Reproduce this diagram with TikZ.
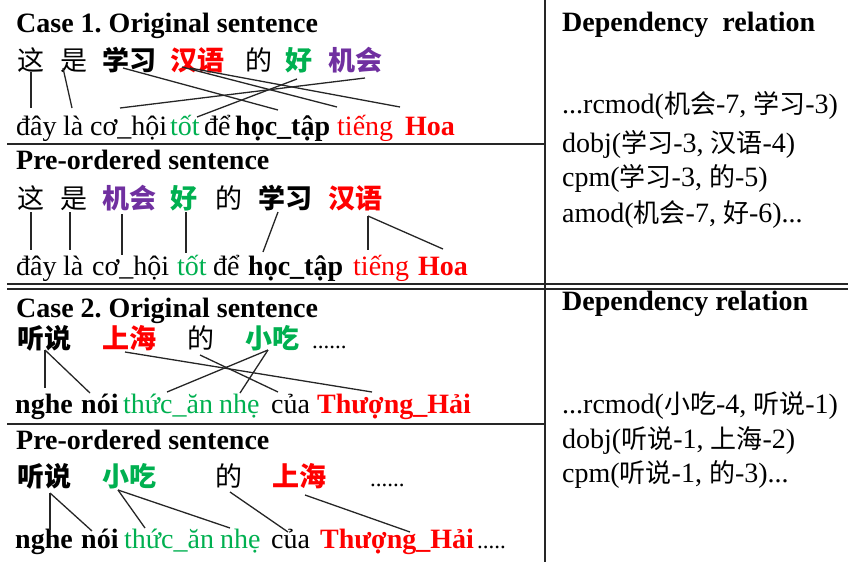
\documentclass[tikz,border=0pt]{standalone}
\usepackage{fontspec}
\setmainfont{Liberation Serif}
\newfontfamily\cjk{Noto Sans CJK SC}
\definecolor{zred}{RGB}{255,0,0}
\definecolor{zgreen}{RGB}{0,176,80}
\definecolor{zpurple}{RGB}{112,48,160}
\newcommand\lk[4]{\draw[link] ([shift={(#2)}]#1.base west) -- ([shift={(#4)}]#3.base west);}
\newcommand\zc[1]{{\cjk\fontsize{26}{26}\selectfont #1}}
\begin{document}
\frenchspacing
\begin{tikzpicture}[x=1pt,y=-1pt,
  every node/.style={inner sep=0pt, anchor=base west},
  ttl/.style={font=\fontsize{28}{28}\selectfont\bfseries},
  zh/.style={font=\cjk\fontsize{27}{27}\selectfont},
  zhb/.style={font=\cjk\bfseries\fontsize{27}{27}\selectfont},
  vi/.style={font=\fontsize{28}{28}\selectfont},
  vib/.style={font=\bfseries\fontsize{28}{28}\selectfont},
  dep/.style={font=\fontsize{28}{28}\selectfont},
  dots/.style={font=\fontsize{23}{23}\selectfont},
  link/.style={draw=black!85, line width=1.3pt},
  rule/.style={draw=black!85, line width=1.4pt}]
\useasboundingbox (0,0) rectangle (848,562);
% table rules
\draw[rule] (545,0) -- (545,562);
\draw[rule] (7,144) -- (545,144);
\draw[rule] (7,284) -- (848,284);
\draw[rule] (7,289) -- (848,289);
\draw[rule] (7,424) -- (545,424);

% ---------- Case 1 original
\node[ttl] (t1) at (16,32) {Case 1. Original sentence};
\node[zh]  (z11) at (17,70) {这};
\node[zh]  (z12) at (60,70) {是};
\node[zhb] (z13) at (102,70) {学习};
\node[zhb,text=zred] (z14) at (170,70) {汉语};
\node[zh]  (z15) at (245,70) {的};
\node[zhb,text=zgreen] (z16) at (285,70) {好};
\node[zhb,text=zpurple] (z17) at (328,70) {机会};
\node[vi]  (v11) at (16,135) {đây};
\node[vi]  (v12) at (63,135) {là};
\node[vi]  (v13) at (90,135) {cơ\_hội};
\node[vi,text=zgreen] (v14) at (170,135) {tốt};
\node[vi]  (v15) at (204,135) {để};
\node[vib] (v16) at (235,135) {học\_tập};
\node[vi,text=zred] (v17) at (337,135) {tiếng};
\node[vib,text=zred] (v18) at (405,135) {Hoa};
\lk{z11}{14,2}{v11}{15,-27}
\lk{z12}{3,-2}{v12}{9,-27}
\lk{z13}{21,-2}{v16}{43,-25}
\lk{z14}{12,-3}{v17}{0,-28}
\lk{z14}{20,-2}{v18}{-5,-28}
\lk{z16}{12,9}{v14}{27,-18}
\lk{z17}{37,8}{v13}{30,-27}

% ---------- Case 1 pre-ordered
\node[ttl] (t2) at (16,169) {Pre-ordered sentence};
\node[zh]  (z21) at (17,208) {这};
\node[zh]  (z22) at (60,208) {是};
\node[zhb,text=zpurple] (z23) at (102,208) {机会};
\node[zhb,text=zgreen] (z24) at (170,208) {好};
\node[zh]  (z25) at (215,208) {的};
\node[zhb] (z26) at (258,208) {学习};
\node[zhb,text=zred] (z27) at (328,208) {汉语};
\node[vi]  (v21) at (16,275) {đây};
\node[vi]  (v22) at (63,275) {là};
\node[vi]  (v23) at (92,275) {cơ\_hội};
\node[vi,text=zgreen] (v24) at (177,275) {tốt};
\node[vi]  (v25) at (213,275) {để};
\node[vib] (v26) at (248,275) {học\_tập};
\node[vi,text=zred] (v27) at (353,275) {tiếng};
\node[vib,text=zred] (v28) at (418,275) {Hoa};
\lk{z21}{14,4}{v21}{15,-25}
\lk{z22}{10,4}{v22}{7,-25}
\lk{z23}{20,6}{v23}{30,-20}
\lk{z24}{16,4}{v24}{9,-22}
\lk{z26}{20,4}{v26}{15,-23}
\lk{z27}{40,8}{v27}{15,-25}
\lk{z27}{40,8}{v28}{25,-26}

% ---------- Case 2 original
\node[ttl] (t3) at (16,317) {Case 2. Original sentence};
\node[zhb] (z31) at (17,348) {听说};
\node[zhb,text=zred] (z32) at (102,348) {上海};
\node[zh]  (z33) at (187,348) {的};
\node[zhb,text=zgreen] (z34) at (245,348) {小吃};
\node[dots] (z35) at (312,348) {......};
\node[vib] (v31) at (15,413) {nghe};
\node[vib] (v32) at (81,413) {nói};
\node[vi,text=zgreen] (v33) at (123,413) {thức\_ăn};
\node[vi,text=zgreen] (v34) at (219,413) {nhẹ};
\node[vi]  (v35) at (271,413) {của};
\node[vib,text=zred] (v36) at (317,413) {Thượng\_Hải};
\lk{z31}{28,2}{v31}{30,-25}
\lk{z31}{28,2}{v32}{9,-20}
\lk{z32}{23,4}{v36}{55,-21}
\lk{z33}{13,7}{v35}{7,-21}
\lk{z34}{23,2}{v33}{44,-21}
\lk{z34}{23,2}{v34}{21,-20}

% ---------- Case 2 pre-ordered
\node[ttl] (t4) at (16,449) {Pre-ordered sentence};
\node[zhb] (z41) at (17,486) {听说};
\node[zhb,text=zgreen] (z42) at (102,486) {小吃};
\node[zh]  (z43) at (215,486) {的};
\node[zhb,text=zred] (z44) at (272,486) {上海};
\node[dots] (z45) at (370,486) {......};
\node[vib] (v41) at (15,548) {nghe};
\node[vib] (v42) at (81,548) {nói};
\node[vi,text=zgreen] (v43) at (124,548) {thức\_ăn};
\node[vi,text=zgreen] (v44) at (220,548) {nhẹ};
\node[vi]  (v45) at (271,548) {của};
\node[vib,text=zred] (v46) at (320,548) {Thượng\_Hải};
\node[dots] (v47) at (477,548) {.....};
\lk{z41}{33,7}{v41}{35,-18}
\lk{z41}{33,7}{v42}{11,-17}
\lk{z42}{16,4}{v43}{21,-20}
\lk{z42}{16,4}{v44}{10,-20}
\lk{z43}{15,6}{v45}{17,-16}
\lk{z44}{33,9}{v46}{90,-16}

% ---------- Dependency relations
\node[ttl] (d1) at (562,31) {Dependency\ \ relation};
\node[dep] (d11) at (562,113) {...rcmod(\zc{机会}-7, \zc{学习}-3)};
\node[dep] (d12) at (562,152) {dobj(\zc{学习}-3, \zc{汉语}-4)};
\node[dep] (d13) at (562,186) {cpm(\zc{学习}-3, \zc{的}-5)};
\node[dep] (d14) at (562,222) {amod(\zc{机会}-7, \zc{好}-6)...};
\node[ttl] (d2) at (562,310) {Dependency relation};
\node[dep] (d21) at (562,413) {...rcmod(\zc{小吃}-4, \zc{听说}-1)};
\node[dep] (d22) at (562,448) {dobj(\zc{听说}-1, \zc{上海}-2)};
\node[dep] (d23) at (562,482) {cpm(\zc{听说}-1, \zc{的}-3)...};
\end{tikzpicture}
\end{document}
